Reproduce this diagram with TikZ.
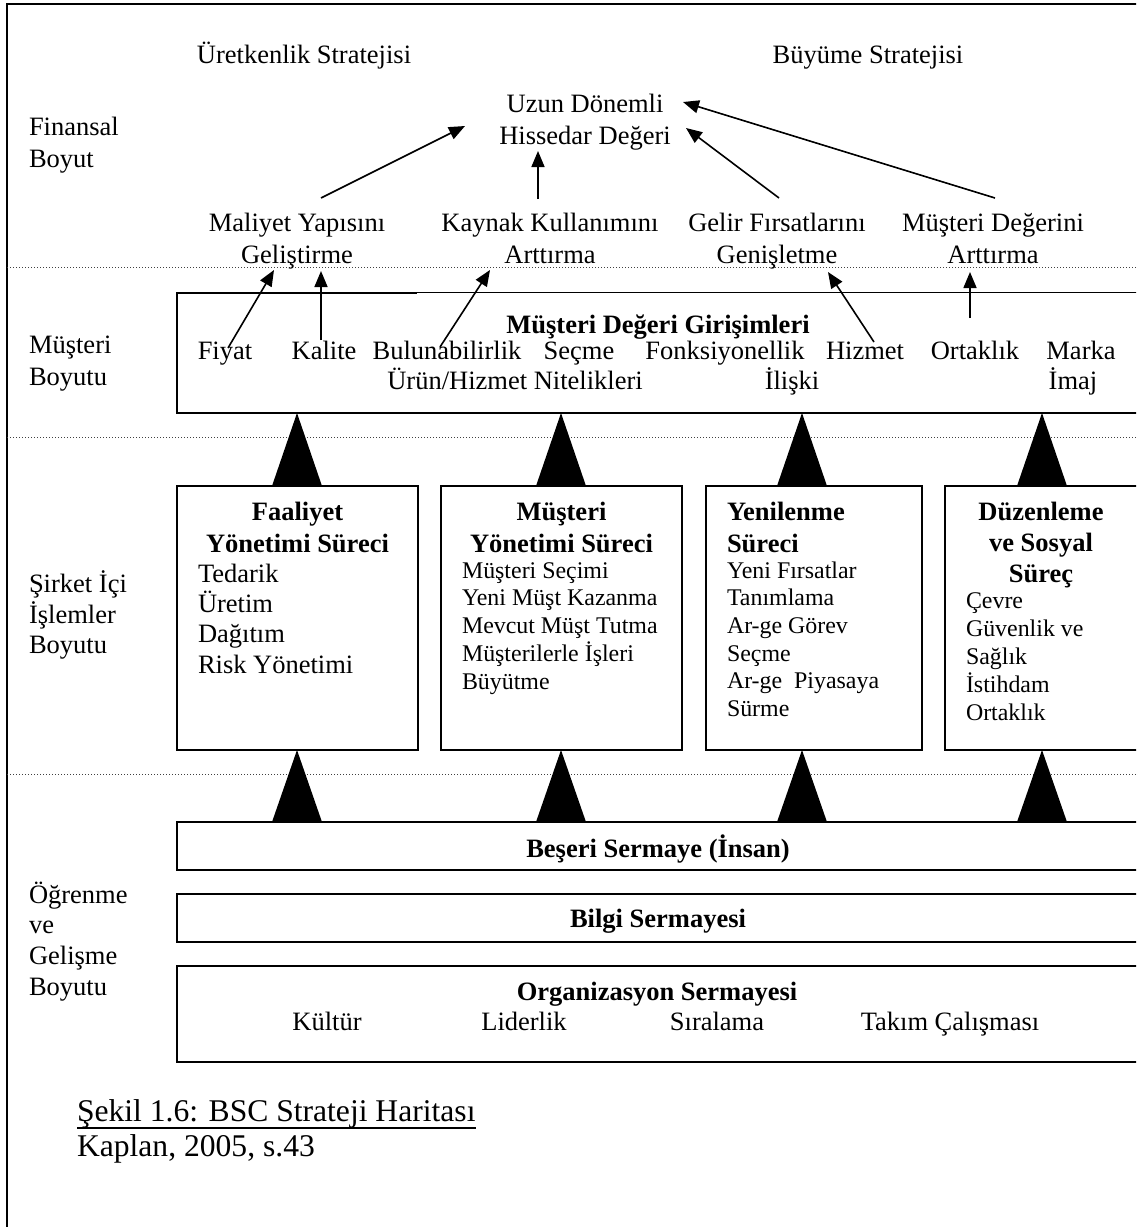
\documentclass[tikz,border=0pt]{standalone}
\usepackage{fontspec}
\setmainfont{Liberation Serif}
\usetikzlibrary{arrows.meta,fit}

% multi-line text blocks whose baseline is the first line
\newcommand\colL[1]{\begin{tabular}[t]{@{}l@{}}#1\end{tabular}}
\newcommand\colC[1]{\begin{tabular}[t]{@{}c@{}}#1\end{tabular}}

\tikzset{
  txt/.style={inner sep=0pt, outer sep=0pt, anchor=base, font=\fontsize{13.25}{16}\selectfont},
  txtl/.style={txt, anchor=base west},
  bf/.style={font=\fontsize{13.25}{16}\selectfont\bfseries},
  small/.style={font=\fontsize{11.95}{13.85}\selectfont},
  box/.style={draw, line width=1pt, inner sep=0pt},
  link/.style={line width=0.8pt, -{Triangle[length=8pt,width=6.5pt]}},
  layer/.style={line width=0.5pt, dash pattern=on 0.5pt off 1pt, black!75},
}

\begin{document}
\begin{tikzpicture}[x=0.5pt,y=-0.5pt]
\useasboundingbox (0,0) rectangle (1136,1227);
\clip (0,0) rectangle (1136,1227);

% outer frame
\draw[line width=1.4pt] (7,1240) -- (7,4) -- (1150,4);

% layer separators
\foreach \y in {267,437,774} \draw[layer] (7,\y) -- (1150,\y);

% strategy headings
\node[txt] (prod) at (304,63) {Üretkenlik Stratejisi};
\node[txt] (grow) at (868,63) {Büyüme Stratejisi};

% perspective labels
\node[txtl] (lfin) at (29,135) {\colL{Finansal\\Boyut}};
\node[txtl] (lcus) at (29,353) {\colL{Müşteri\\Boyutu}};
\node[txtl, font=\fontsize{13.25}{15.25}\selectfont] (lint) at (29,592) {\colL{Şirket İçi\\İşlemler\\Boyutu}};
\node[txtl, font=\fontsize{13.25}{15.35}\selectfont] (llrn) at (29,903) {\colL{Öğrenme\\ve\\Gelişme\\Boyutu}};

% financial perspective
\node[txt] (shv) at (585,112) {\colC{Uzun Dönemli\\Hissedar Değeri}};
\node[txt] (cost) at (297,231) {\colC{Maliyet Yapısını\\Geliştirme}};
\node[txt] (asset) at (550,231) {\colC{Kaynak Kullanımını\\Arttırma}};
\node[txt] (rev) at (777,231) {\colC{Gelir Fırsatlarını\\Genişletme}};
\node[txt] (cval) at (993,231) {\colC{Müşteri Değerini\\Arttırma}};

\coordinate (cost-out) at (321,198);
\coordinate (asset-out) at (538,199);
\coordinate (rev-out) at (779,198);
\coordinate (cval-out) at (995,198);
\coordinate (shv-in1) at (465,126);
\coordinate (shv-in2) at (538,151);
\coordinate (shv-in3) at (686,128);
\coordinate (shv-in4) at (683,102);
\draw[link] (cost-out) -- (shv-in1);
\draw[link] (asset-out) -- (shv-in2);
\draw[link] (rev-out) -- (shv-in3);
\draw[link] (cval-out) -- (shv-in4);

% customer perspective: the top edge is lighter after the first segment
\node[inner sep=0pt, fit={(177,293) (1160,413)}] (cust) {};
\draw[line width=1pt] ([xshift=120pt]cust.north west) -- (cust.north west)
  -- (cust.south west) -- (cust.south east);
\draw[line width=0.6pt] ([xshift=120pt]cust.north west) -- (cust.north east);

\node[txt, bf] (cvp) at (658,333) {Müşteri Değeri Girişimleri};
\node[txt] (price) at (225,359) {Fiyat};
\node[txt] (qual) at (324,359) {Kalite};
\node[txt] (avail) at (447,359) {Bulunabilirlik};
\node[txt] (sel) at (579,359) {Seçme};
\node[txt] (func) at (725,359) {Fonksiyonellik};
\node[txt] (serv) at (865,359) {Hizmet};
\node[txt] (part) at (975,359) {Ortaklık};
\node[txt] (brand) at (1081,359) {Marka};
\node[txt] (attr) at (515,389) {Ürün/Hizmet Nitelikleri};
\node[txt] (rel) at (792,389) {İlişki};
\node[txt] (img) at (1073,389) {İmaj};

\coordinate (price-out) at (228,348);
\coordinate (qual-out) at (321,340);
\coordinate (avail-out) at (440,347);
\coordinate (serv-out) at (874,342);
\coordinate (part-out) at (970,318);
\coordinate (cost-in1) at (274,270);
\coordinate (cost-in2) at (321,271);
\coordinate (asset-in) at (490,270);
\coordinate (rev-in) at (828,272);
\coordinate (cval-in) at (970,272);
\draw[link] (price-out) -- (cost-in1);
\draw[link] (qual-out) -- (cost-in2);
\draw[link] (avail-out) -- (asset-in);
\draw[link] (serv-out) -- (rev-in);
\draw[link] (part-out) -- (cval-in);

% internal process perspective
\node[box, fit={(177,486) (418,750)}] (ops) {};
\node[box, fit={(441,486) (682,750)}] (cm) {};
\node[box, fit={(706,486) (922,750)}] (inn) {};
\node[box, fit={(945,486) (1140,750)}] (reg) {};

\node[txt, bf] (opsT) at (297.5,520) {\colC{Faaliyet\\Yönetimi Süreci}};
\node[txtl, font=\fontsize{13.25}{15.15}\selectfont] (opsL) at (198,582)
  {\colL{Tedarik\\Üretim\\Dağıtım\\Risk Yönetimi}};
\node[txt, bf] (cmT) at (561.5,520) {\colC{Müşteri\\Yönetimi Süreci}};
\node[txtl, small] (cmL) at (462,578)
  {\colL{Müşteri Seçimi\\Yeni Müşt Kazanma\\Mevcut Müşt Tutma\\Müşterilerle İşleri\\Büyütme}};
\node[txtl, bf] (innT) at (727,520) {\colL{Yenilenme\\Süreci}};
\node[txtl, small] (innL) at (727,578)
  {\colL{Yeni Fırsatlar\\Tanımlama\\Ar-ge Görev\\Seçme\\Ar-ge\ \ Piyasaya\\Sürme}};
\node[txt, font=\fontsize{13.25}{15.5}\selectfont\bfseries] (regT) at (1041,520) {\colC{Düzenleme\\ve Sosyal\\Süreç}};
\node[txtl, font=\fontsize{11.95}{14}\selectfont] (regL) at (966,608)
  {\colL{Çevre\\Güvenlik ve\\Sağlık\\İstihdam\\Ortaklık}};

% wedges between the layers
\foreach \x in {297,561,802,1042} {
  \fill (\x-25,486) -- (\x,413) -- (\x+25,486) -- cycle;
  \fill (\x-25,822) -- (\x,750) -- (\x+25,822) -- cycle;
}

% learning and growth perspective
\node[box, fit={(177,822) (1160,870)}] (hc) {};
\node[box, fit={(177,894) (1160,942)}] (ic) {};
\node[box, fit={(177,966) (1160,1062)}] (oc) {};
\node[txt, bf] (hcT) at (658,857) {Beşeri Sermaye (İnsan)};
\node[txt, bf] (icT) at (658,927) {Bilgi Sermayesi};
\node[txt, bf] (ocT) at (657,1000) {Organizasyon Sermayesi};
\node[txt] (cult) at (327,1030) {Kültür};
\node[txt] (lead) at (524,1030) {Liderlik};
\node[txt] (aln) at (717,1030) {Sıralama};
\node[txt] (team) at (950,1030) {Takım Çalışması};

% caption
\node[txtl, font=\fontsize{15.8}{18}\selectfont] (cap) at (77,1121) {Şekil 1.6: BSC Strateji Haritası};
\draw[line width=0.75pt] ([yshift=-3.5pt]cap.base west) -- ([yshift=-3.5pt]cap.base east);
\node[txtl, font=\fontsize{15.8}{18}\selectfont] (src) at (77,1156) {Kaplan, 2005, s.43};
\end{tikzpicture}
\end{document}
